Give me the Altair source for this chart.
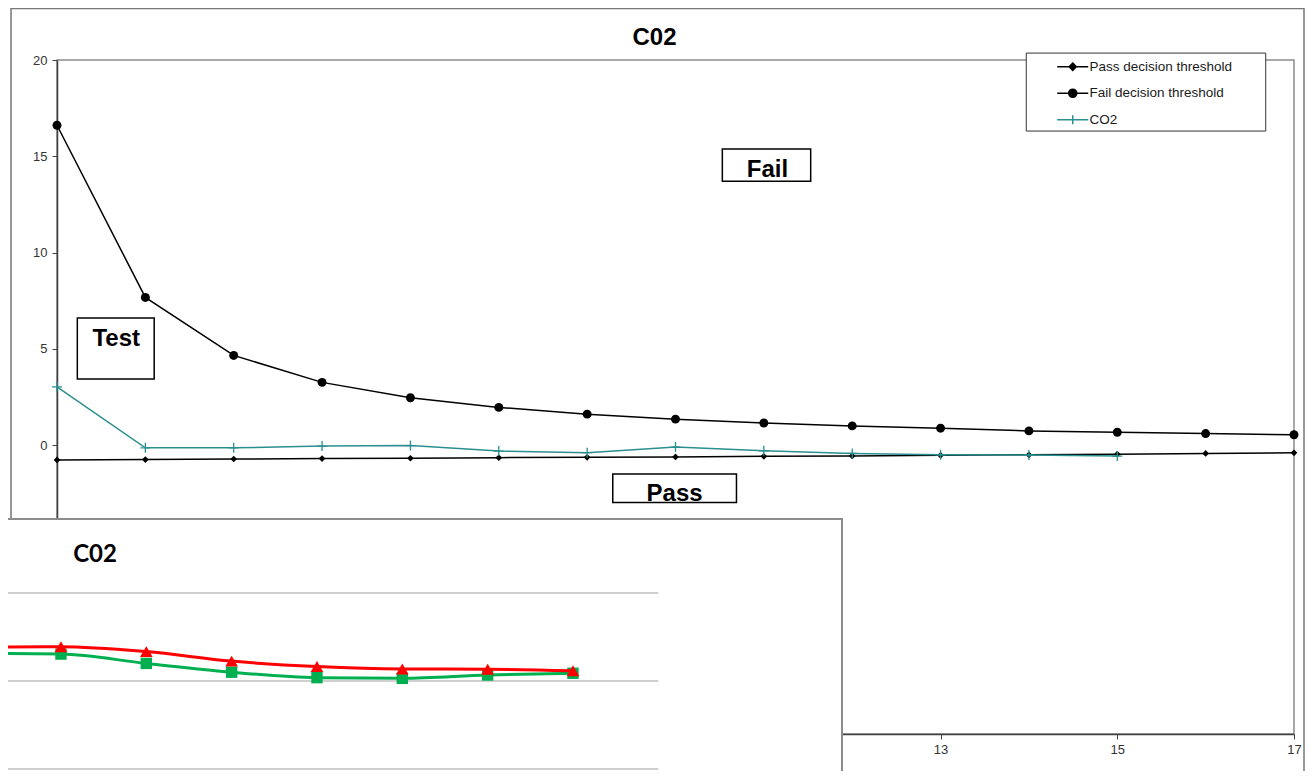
import altair as alt
import pandas as pd

# ---------------- data ----------------
x_vals = list(range(3, 18))
pass_threshold = [-0.77, -0.75, -0.72, -0.70, -0.68, -0.65, -0.63, -0.61, -0.58,
                  -0.56, -0.53, -0.50, -0.47, -0.43, -0.40]
fail_threshold = [16.61, 7.67, 4.66, 3.26, 2.46, 1.96, 1.61, 1.35, 1.15,
                  1.00, 0.88, 0.74, 0.67, 0.60, 0.54]
co2_x = list(range(3, 16))
co2_vals = [3.03, -0.14, -0.14, -0.05, -0.02, -0.31, -0.39, -0.10, -0.29,
            -0.43, -0.50, -0.51, -0.57]
series_names = ["Pass decision threshold", "Fail decision threshold", "CO2"]
x_ticks = [3, 5, 7, 9, 11, 13, 15, 17]
y_ticks = [-15, -10, -5, 0, 5, 10, 15, 20]

# inset (second, partly hidden chart)
inset_x = [1, 2, 3, 4, 5, 6, 7, 8]
inset_red = [1.92, 1.95, 1.67, 1.13, 0.82, 0.68, 0.67, 0.58]
inset_green = [1.57, 1.53, 1.00, 0.50, 0.19, 0.15, 0.34, 0.44]
inset_grid = [-5, 0, 5]

# text boxes of the main chart, in data units
box_labels = ["Test", "Fail", "Pass"]
box_x1 = [3.23, 10.53, 9.29]
box_x2 = [4.10, 11.53, 10.69]
box_y1 = [6.60, 15.38, -1.50]
box_y2 = [3.43, 13.71, -2.98]
label_x = [3.67, 11.04, 9.99]
label_y = [5.15, 13.92, -2.90]
legend_box = {"x1": [13.97], "x2": [16.68], "y1": [20.36], "y2": [16.31]}

FONT = "Liberation Sans"
TEAL = "#2b8f8f"
BLACK = "#000000"

main_df = pd.DataFrame({"x": x_vals, "pass": pass_threshold, "fail": fail_threshold})
co2_df = pd.DataFrame({"x": co2_x, "co2": co2_vals})
boxes_df = pd.DataFrame({"x1": box_x1, "x2": box_x2, "y1": box_y1, "y2": box_y2})
labels_df = pd.DataFrame({"label": box_labels, "x": label_x, "y": label_y})
legbox_df = pd.DataFrame(legend_box)
legend_df = pd.DataFrame({"series": series_names})
inset_df = pd.DataFrame({"ix": inset_x, "red": inset_red, "green": inset_green})
grid_df = pd.DataFrame({"g": inset_grid})
one_df = pd.DataFrame({"a": [0]})

# ---------------- main chart ----------------
X_SCALE = alt.Scale(domain=[3, 17], nice=False, zero=False)
Y_SCALE = alt.Scale(domain=[-15, 20], nice=False, zero=False)
x_axis = alt.Axis(values=x_ticks, title=None, grid=False, labelFont=FONT, labelFontSize=13,
                  labelColor="#333333", domainColor="#404040", tickColor="#404040",
                  domainWidth=1.5, tickSize=5, labelPadding=4, labelFlush=False)
y_axis = alt.Axis(values=y_ticks, title=None, grid=False, labelFont=FONT, labelFontSize=13,
                  labelColor="#333333", domainColor="#404040", tickColor="#404040",
                  domainWidth=1.5, tickSize=5, labelPadding=5, labelFlush=False)


def MX(f):
    return alt.X(f, type="quantitative", scale=X_SCALE, axis=x_axis)


def MY(f):
    return alt.Y(f, type="quantitative", scale=Y_SCALE, axis=y_axis)


pass_line = alt.Chart(main_df).mark_line(color=BLACK, strokeWidth=1.5).encode(x=MX("x"), y=MY("pass"))
pass_pts = alt.Chart(main_df).mark_point(shape="diamond", filled=True, color=BLACK, size=45,
                                         opacity=1).encode(x=MX("x"), y=MY("pass"))
fail_line = alt.Chart(main_df).mark_line(color=BLACK, strokeWidth=1.5).encode(x=MX("x"), y=MY("fail"))
fail_pts = alt.Chart(main_df).mark_point(shape="circle", filled=True, color=BLACK, size=80,
                                         opacity=1).encode(x=MX("x"), y=MY("fail"))
co2_line = alt.Chart(co2_df).mark_line(color=TEAL, strokeWidth=1.5).encode(x=MX("x"), y=MY("co2"))
co2_pts = alt.Chart(co2_df).mark_point(shape="M-1,0H1M0,-1V1", filled=False, color=TEAL, size=100,
                                       strokeWidth=1.3, opacity=1).encode(x=MX("x"), y=MY("co2"))

boxes = alt.Chart(boxes_df).mark_rect(fill="white", stroke=BLACK, strokeWidth=1.5).encode(
    x=MX("x1"), x2="x2", y=MY("y1"), y2="y2")
box_text = alt.Chart(labels_df).mark_text(font=FONT, fontSize=24, fontWeight="bold", color=BLACK,
                                          align="center", baseline="alphabetic").encode(
    x=MX("x"), y=MY("y"), text="label:N")
leg_box = alt.Chart(legbox_df).mark_rect(fill="white", stroke="#333333", strokeWidth=1).encode(
    x=MX("x1"), x2="x2", y=MY("y1"), y2="y2")

legend_paths = [
    "M-3.45,0H3.45M0,-0.8L0.8,0L0,0.8L-0.8,0Z",
    "M-3.45,0H3.45M-0.9,0A0.9,0.9 0 1,1 0.9,0A0.9,0.9 0 1,1 -0.9,0Z",
    "M-3.45,0H3.45M0,-1V1",
]
leg = alt.Legend(title=None, orient="none", legendX=1009, legendY=0, padding=0, direction="vertical",
                 labelFont=FONT, labelFontSize=13.5, labelColor="#1a1a1a", labelOffset=10,
                 rowPadding=11.5, symbolSize=81, symbolStrokeWidth=1.5)
legend_layer = alt.Chart(legend_df).transform_filter("false").mark_point(
    filled=True, size=81, strokeWidth=1.5, opacity=1).encode(
    shape=alt.Shape("series:N", scale=alt.Scale(domain=series_names, range=legend_paths), legend=leg),
    fill=alt.Fill("series:N", scale=alt.Scale(domain=series_names, range=[BLACK, BLACK, "transparent"]),
                  legend=leg),
    stroke=alt.Stroke("series:N", scale=alt.Scale(domain=series_names, range=[BLACK, BLACK, TEAL]),
                      legend=leg),
)

frame = alt.Chart(one_df).mark_rect(fill=None, stroke="#777777", strokeWidth=1.5).encode(
    x=alt.value(-46), x2=alt.value(1247), y=alt.value(-51.5), y2=alt.value(800))

main = alt.layer(frame, leg_box, pass_line, pass_pts, fail_line, fail_pts, co2_line, co2_pts,
                 boxes, box_text, legend_layer)

# ---------------- inset chart ----------------
IX = alt.Scale(domain=[0, 9], range=[-166.7, 601.3], nice=False, zero=False)
IY = alt.Scale(domain=[-5, 5], range=[709, 533], nice=False, zero=False)

panel = alt.Chart(one_df).mark_rect(fill="white", stroke="#8c8c8c", strokeWidth=2).encode(
    x=alt.value(-62), x2=alt.value(785), y=alt.value(459), y2=alt.value(760))
inset_title = alt.Chart(one_df).mark_text(text="C02", font="Lato", fontSize=24, fontWeight="bold",
                                          color=BLACK, align="center", baseline="alphabetic").encode(
    x=alt.value(38), y=alt.value(502))
grid = alt.Chart(grid_df).mark_rule(color="#c0c0c0", strokeWidth=1.5).encode(
    x=alt.X(datum=0, type="quantitative", scale=IX, axis=None),
    x2=alt.X2(datum=9),
    y=alt.Y("g:Q", scale=IY, axis=None))
g_line = alt.Chart(inset_df).mark_line(color="#00b050", strokeWidth=3, interpolate="monotone").encode(
    x=alt.X("ix:Q", scale=IX, axis=None), y=alt.Y("green:Q", scale=IY, axis=None))
g_pts = alt.Chart(inset_df).mark_point(shape="square", filled=True, color="#00b050", size=130,
                                       opacity=1).encode(
    x=alt.X("ix:Q", scale=IX, axis=None), y=alt.Y("green:Q", scale=IY, axis=None))
r_line = alt.Chart(inset_df).mark_line(color="#ff0000", strokeWidth=3, interpolate="monotone").encode(
    x=alt.X("ix:Q", scale=IX, axis=None), y=alt.Y("red:Q", scale=IY, axis=None))
r_pts = alt.Chart(inset_df).mark_point(shape="triangle-up", filled=True, color="#ff0000", size=160,
                                       opacity=1).encode(
    x=alt.X("ix:Q", scale=IX, axis=None), y=alt.Y("red:Q", scale=IY, axis=None))

inset = alt.layer(panel, inset_title, grid, g_line, g_pts, r_line, r_pts)

chart = alt.layer(main, inset).resolve_scale(x="independent", y="independent").properties(
    width=1237, height=674,
    padding={"left": 49, "top": 52, "right": 11, "bottom": 37},
    autosize=alt.AutoSizeParams(type="none"),
    background="white",
    title=alt.TitleParams("C02", font=FONT, fontSize=24, fontWeight="bold", color=BLACK,
                          anchor="middle", frame="group", dx=-21, offset=0, dy=42),
).configure_view(stroke="#8c8c8c", strokeWidth=1.5)

chart.save("out.html", embed_options={"renderer": "svg", "actions": False})
